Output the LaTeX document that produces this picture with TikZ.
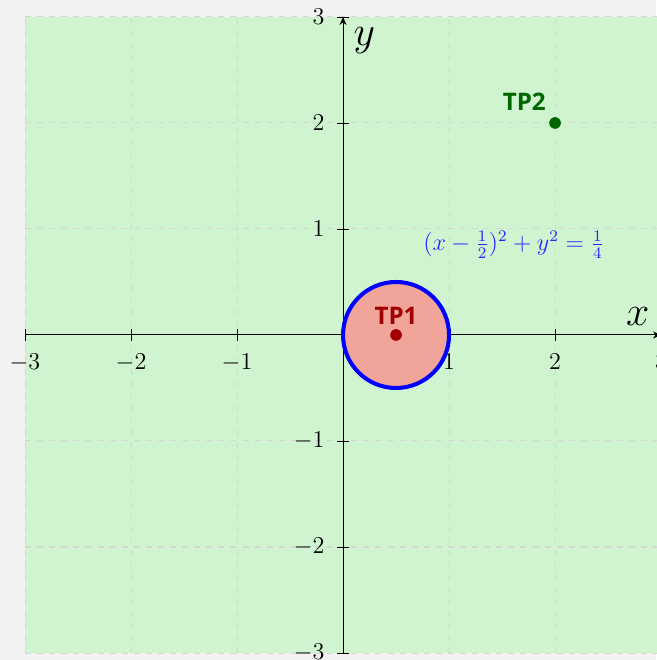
\documentclass[tikz,border=0pt]{standalone}
\usepackage{fontspec}
\newfontfamily\tpfont{Open Sans}
\usetikzlibrary{arrows.meta}
\definecolor{pagegray}{HTML}{F2F2F2}
\definecolor{planegreen}{HTML}{D0F4D0}
\definecolor{diskred}{HTML}{F0A49A}
\definecolor{tpred}{HTML}{A00000}
\definecolor{tpgreen}{HTML}{006600}
\tikzset{
  gridline/.style={draw=black!16, dashed, line width=0.5pt},
  axisline/.style={line width=0.5pt, -{Stealth[length=4pt,width=3.5pt]}},
  ticklabel/.style={font=\large, inner sep=2pt},
  tplabel/.style={font=\tpfont\bfseries\large, inner sep=1pt},
}
\begin{document}
\begin{tikzpicture}[x=1.85cm,y=1.85cm]
\useasboundingbox (-3.236,-3.066) rectangle (2.953,3.160);
\fill[pagegray] (-3.236,-3.066) rectangle (2.953,3.160);
\fill[planegreen] (-3,-3) rectangle (3,3);
\draw[gridline] (-3,-3) grid[step=1.0] (3,3);
% axes
\draw[axisline] (-3,0) -- (3,0);
\draw[axisline] (0,-3) -- (0,3);
\foreach \t in {-3,-2,-1,1,2,3} {
  \draw[line width=0.4pt] (\t,0) ++(0,-3pt) -- ++(0,6pt);
  \draw[line width=0.4pt] (0,\t) ++(-3pt,0) -- ++(6pt,0);
  \node[ticklabel, below=7pt] (xl\t) at (\t,0) {$\t$};
  \node[ticklabel, left=7pt] (yl\t) at (0,\t) {$\t$};
}
\node[font=\huge] (xlab) at (2.78,0.17) {$x$};
\node[font=\huge] (ylab) at (0.2,2.78) {$y$};
% disk
\filldraw[fill=diskred, draw=blue, line width=2pt] (0.5,0) circle (0.5);
\fill[tpred] (0.5,0) circle (0.055);
\node[tplabel, text=tpred] (tp1) at (0.5,0.18) {TP1};
\fill[tpgreen] (2,2) circle (0.055);
\node[tplabel, text=tpgreen] (tp2) at (1.71,2.2) {TP2};
\node[text=blue!85, font=\large] (eq) at (1.61,0.85) {$(x-\frac{1}{2})^2+y^2=\frac{1}{4}$};
\end{tikzpicture}
\end{document}
